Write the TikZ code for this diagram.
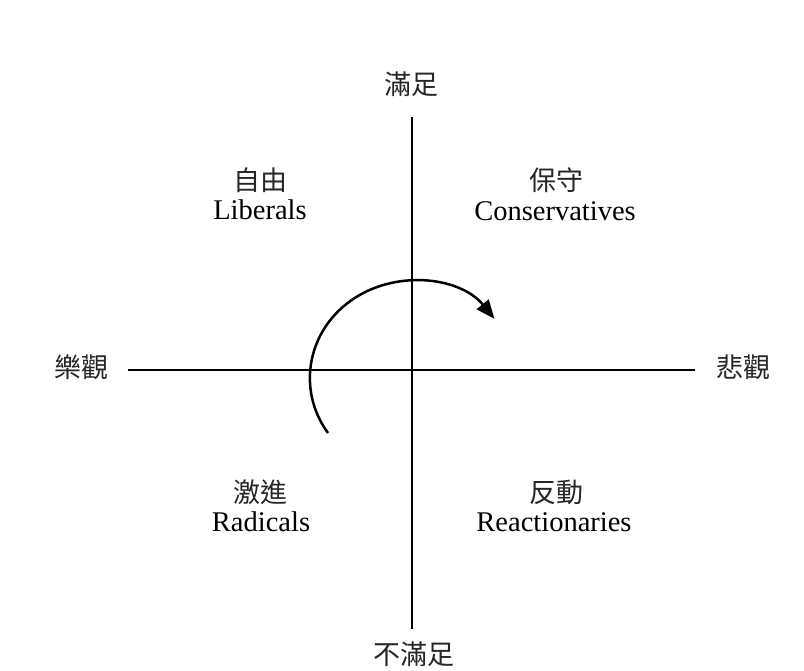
\documentclass[tikz,border=0pt]{standalone}
\usepackage{fontspec}
\setmainfont{Liberation Serif}
\newfontfamily\cjk{Noto Sans CJK TC}
\usetikzlibrary{arrows.meta}
\begin{document}
\begin{tikzpicture}[x=1pt,y=-1pt,
  axis/.style={line width=2.5pt,draw=black},
  cjklabel/.style={inner sep=0pt,anchor=center,text=black!85,font=\cjk\fontsize{27}{29}\selectfont},
  enlabel/.style={inner sep=0pt,anchor=base,text=black,font=\fontsize{28.5}{30}\selectfont},
  turn/.style={line width=2.5pt,-{Triangle[length=19pt,width=15pt]}}]
\useasboundingbox (0,0) rectangle (804,671);
\fill[white] (0,0) rectangle (804,671);
% axes
\coordinate (top) at (412,117);
\coordinate (bottom) at (412,629);
\coordinate (left) at (128,370);
\coordinate (right) at (695,370);
\draw[axis] (top) -- (bottom);
\draw[axis] (left) -- (right);
% axis labels
\node[cjklabel] (sat) at (411,84) {滿足};
\node[cjklabel] (unsat) at (414,654) {不滿足};
\node[cjklabel] (opt) at (81,367) {樂觀};
\node[cjklabel] (pes) at (743,367) {悲觀};
% quadrant labels
\node[cjklabel] (libzh) at (260,180) {自由};
\node[enlabel] (liben) at (260,220) {Liberals};
\node[cjklabel] (conzh) at (556,180) {保守};
\node[enlabel] (conen) at (555,221) {Conservatives};
\node[cjklabel] (radzh) at (260,492) {激進};
\node[enlabel] (raden) at (261,531) {Radicals};
\node[cjklabel] (reazh) at (556,492) {反動};
\node[enlabel] (reaen) at (554,531) {Reactionaries};
% rotation arrow
\coordinate (arcstart) at (328,433);
\draw[turn] (arcstart) arc[start angle=145.5,end angle=322.5,x radius=103,y radius=97];
\end{tikzpicture}
\end{document}
